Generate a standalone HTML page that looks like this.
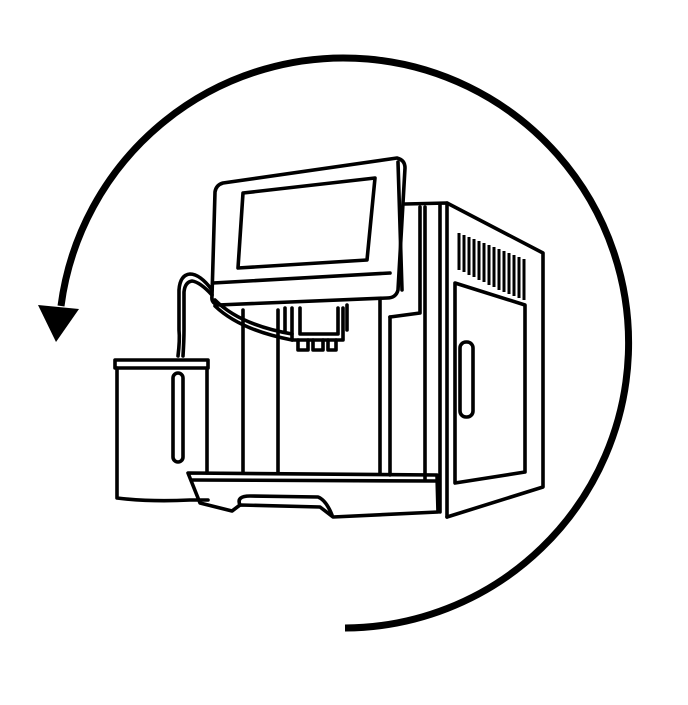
<!DOCTYPE html>
<html><head><meta charset="utf-8"><style>
html,body{margin:0;padding:0;background:#fff;}
svg{display:block}
</style></head><body>
<svg width="688" height="705" viewBox="0 0 688 705" xmlns="http://www.w3.org/2000/svg">
<g fill="none" stroke="#000" stroke-linejoin="round" stroke-linecap="round">
<path d="M345 628 A285 285 0 1 0 61 306" stroke-width="7" stroke-linecap="butt"/>
</g>
<polygon points="38,305 79,309 56,342" fill="#000"/>
<g fill="none" stroke="#000" stroke-width="3.6" stroke-linejoin="round" stroke-linecap="round">
<path d="M405 204 L447 203 L543 253 L543 487 L447 517"/>
<path d="M425 207 L425 480"/>
<path d="M440 204 L440 512"/>
<path d="M447 203 L447 517"/>
<path d="M455 283 L525 305 L525 472 L455 483 Z"/>
<rect x="460" y="342" width="13" height="75" rx="6"/>
<path d="M390 317 L390 475"/>
<path d="M390 317 L420 313 L420 207"/>
<path d="M243 310 L243 472"/>
<path d="M278 310 L278 472"/>
<path d="M380 300 L380 473"/>
<path d="M188 473 L437 475 L438 512 L333 517 L320 507 L240 505 L232 511 L200 503 Z"/>
<path d="M192 480 L437 481"/>
<path d="M240 505 Q236 496 250 496 L318 497 Q326 500 332 515"/>
<path d="M115 360 L208 360 L208 368 L115 368 Z"/>
<path d="M117 368 L117 498 Q150 502 190 500 L208 500"/>
<path d="M207 368 L207 473"/>
<rect x="173" y="373" width="10" height="89" rx="5"/>
<path d="M178 356 Q180 340 179 330 L179 290 Q180 275 190 274 Q200 274 212 290"/>
<path d="M183 356 Q184 340 184 330 L184 292 Q185 282 192 281 Q200 282 212 295"/>
<path d="M215 300 Q240 325 292 334"/>
<path d="M215 306 Q240 330 292 340"/>
<path d="M292 308 L292 340 L343 340 L343 308"/>
<path d="M300 308 L300 334 L338 334 L338 308"/>
<path d="M298 340 L298 350 L308 350 L308 340"/>
<path d="M313 340 L313 350 L323 350 L323 340"/>
<path d="M328 340 L328 350 L336 350 L336 340"/>
<path d="M285 308 L285 332"/>
<path d="M347 305 L347 330"/>
<path d="M223 183 L397 158 Q405 160 405 168 L398 290 Q396 298 387 298 L218 305 Q211 303 212 296 L215 192 Q216 185 223 183 Z"/>
<path d="M213 283 L390 273"/>
<path d="M398 162 L402 290"/>
<path d="M243 193 L375 178 L367 260 L238 268 Z"/>
</g>
<g stroke="#000" stroke-width="3">
<line x1="459" y1="233" x2="459" y2="270"/>
<line x1="464" y1="235" x2="464" y2="272"/>
<line x1="469" y1="237" x2="469" y2="275"/>
<line x1="474" y1="239" x2="474" y2="277"/>
<line x1="479" y1="241" x2="479" y2="280"/>
<line x1="484" y1="243" x2="484" y2="282"/>
<line x1="489" y1="245" x2="489" y2="285"/>
<line x1="494" y1="247" x2="494" y2="287"/>
<line x1="499" y1="249" x2="499" y2="290"/>
<line x1="504" y1="251" x2="504" y2="292"/>
<line x1="509" y1="253" x2="509" y2="294"/>
<line x1="514" y1="255" x2="514" y2="296"/>
<line x1="519" y1="257" x2="519" y2="298"/>
<line x1="524" y1="259" x2="524" y2="300"/>
</g>
</svg>
</body></html>
